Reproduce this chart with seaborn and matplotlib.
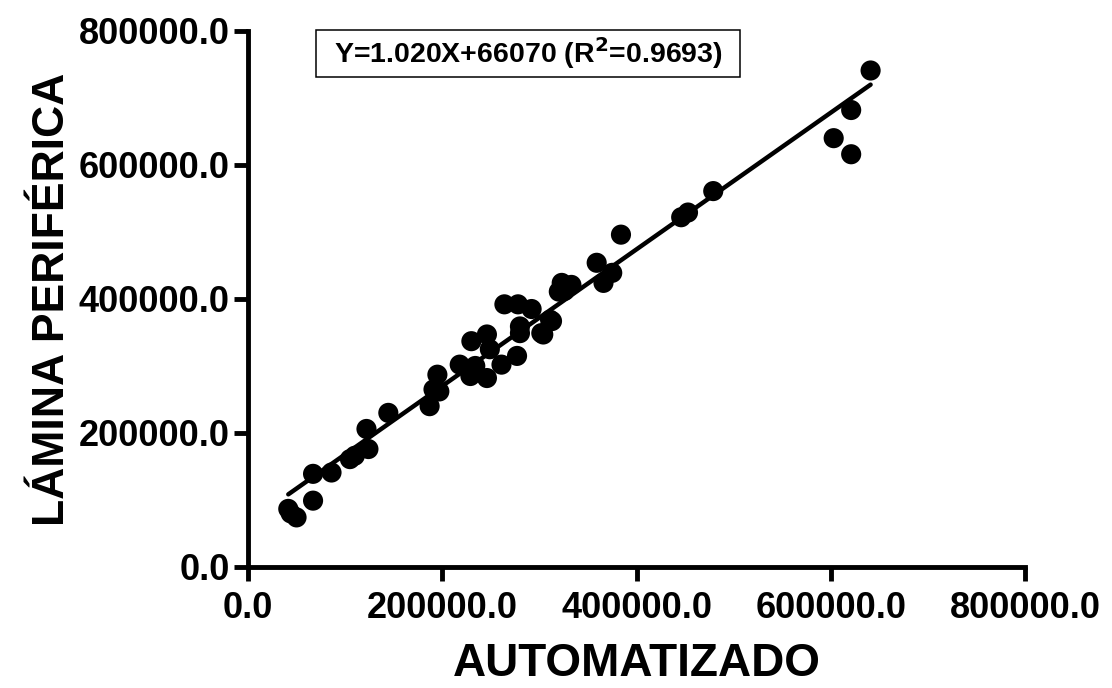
import matplotlib
matplotlib.use("Agg")
import matplotlib.pyplot as plt
from matplotlib.patches import Rectangle
import numpy as np
import pandas as pd
import seaborn as sns
from matplotlib.ticker import FormatStrFormatter

# Paired platelet counts: automated counter vs. peripheral smear
automatizado = [
    41500, 44000, 50000, 67000, 67000, 86000, 105000, 110000, 124000, 122000,
    144500, 187000, 191000, 197000, 195000, 218000, 230000, 234000, 229000,
    246000, 246000, 249000, 261000, 264000, 277000, 280000, 280000, 278000,
    292000, 302000, 304000, 311000, 313000, 320000, 323000, 333000, 326000,
    359000, 366000, 375000, 384000, 446000, 453000, 479000, 603000, 621000,
    621000, 641000,
]
lamina = [
    86700, 80000, 74000, 99000, 139000, 141000, 161000, 166000, 176000, 206000,
    230000, 240000, 265000, 262000, 287000, 302000, 337000, 300000, 285000,
    347000, 282000, 325000, 302000, 392000, 315000, 349000, 359000, 392000,
    385000, 349000, 347000, 369000, 367000, 411000, 424000, 421000, 412000,
    454000, 424000, 439000, 496000, 522000, 529000, 561000, 640000, 682000,
    616000, 741000,
]

# Linear regression result
slope = 1.020
intercept = 66070
r2 = 0.9693

ticks = [0, 200000, 400000, 600000, 800000]

df = pd.DataFrame({"AUTOMATIZADO": automatizado, "LAMINA": lamina})

sns.set_style("ticks")
plt.rcParams["font.family"] = ["Liberation Sans", "DejaVu Sans"]
plt.rcParams["font.weight"] = "bold"
plt.rcParams["text.color"] = "black"
plt.rcParams["axes.labelcolor"] = "black"
plt.rcParams["xtick.color"] = "black"
plt.rcParams["ytick.color"] = "black"

fig = plt.figure(figsize=(11.12, 6.88), dpi=100)
ax = fig.add_axes([0.223, 0.1759, 0.6988, 0.7791])

sns.scatterplot(data=df, x="AUTOMATIZADO", y="LAMINA", ax=ax,
                color="black", s=210, edgecolor="none", zorder=3, clip_on=False)

xs = np.array([min(automatizado), max(automatizado)])
ax.plot(xs, slope * xs + intercept, color="black", lw=3.2, zorder=2)

ax.set_xlim(0, 800000)
ax.set_ylim(0, 800000)
ax.set_xticks(ticks)
ax.set_yticks(ticks)
ax.xaxis.set_major_formatter(FormatStrFormatter("%.1f"))
ax.yaxis.set_major_formatter(FormatStrFormatter("%.1f"))

for side in ("top", "right"):
    ax.spines[side].set_visible(False)
for side in ("left", "bottom"):
    ax.spines[side].set_linewidth(3.5)
    ax.spines[side].set_color("black")
ax.tick_params(axis="both", which="major", length=10, width=3.5,
               labelsize=26, colors="black")
ax.tick_params(axis="x", pad=7)
ax.tick_params(axis="y", pad=3)
for lab in ax.get_xticklabels() + ax.get_yticklabels():
    lab.set_fontweight("bold")
    lab.set_color("black")

ax.set_xlabel("AUTOMATIZADO", fontsize=33, fontweight="bold", labelpad=12,
              color="black")
ax.set_ylabel("LÁMINA PERIFÉRICA", fontsize=32, fontweight="bold", labelpad=4,
              color="black")

# Equation box
ax.add_patch(Rectangle((70000, 731300), 436600, 70200, facecolor="white",
                       edgecolor="black", linewidth=1.1, zorder=4,
                       clip_on=False))
ax.text(288300, 766400,
        "Y=%.3fX+%d (R$\\mathbf{^2}$=%.4f)" % (slope, intercept, r2),
        fontsize=20.5, fontweight="bold", ha="center", va="center",
        color="black", zorder=5)

fig.savefig("out.png", dpi=100)
